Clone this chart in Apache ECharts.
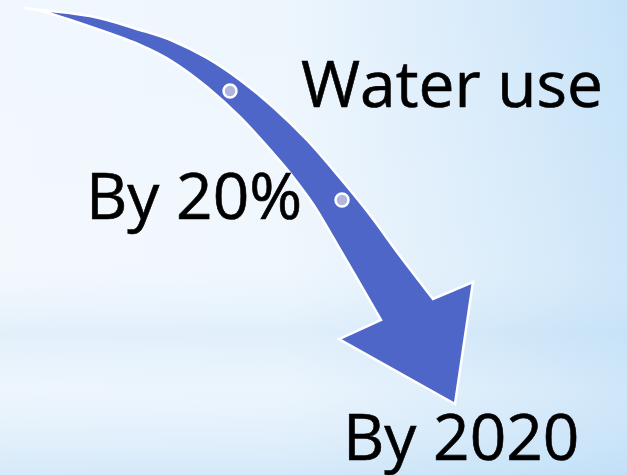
<!DOCTYPE html>
<html>
<head>
<meta charset="utf-8">
<script src="https://cdn.jsdelivr.net/npm/echarts@6/dist/echarts.min.js"></script>
<style>
html,body{margin:0;padding:0;width:627px;height:475px;overflow:hidden;}
#chart{width:627px;height:475px;}
</style>
</head>
<body>
<div id="chart"></div>
<script>
// Diagram geometry (diagram value space: x 0..627, y 0..475 downward)
const outerEdge = [[24,8],[90,16],[140,30],[173,41],[207,58],[240,80],[273,107],[307,140],[340,178],[370,215],[400,256],[433,299]];
const arrowHead = [[473,282],[455,404],[339,339]];
const innerEdge = [[381,320],[355,275],[334,239],[313,204],[290,173],[273,153],[240,117],[207,87],[173,62],[140,45],[100,30],[45,12],[24,8]];
const dotPoints = [[230,91],[342,200]];
const labelTexts = ['Water use','By 20%','By 2020'];
const labelAnchors = [[301,89],[86,201],[343,442]];

function smoothSeg(pts){
  let d='';
  for(let i=0;i<pts.length-1;i++){
    const p0=pts[i-1]||pts[i], p1=pts[i], p2=pts[i+1], p3=pts[i+2]||pts[i+1];
    const c1=[p1[0]+(p2[0]-p0[0])/6, p1[1]+(p2[1]-p0[1])/6];
    const c2=[p2[0]-(p3[0]-p1[0])/6, p2[1]-(p3[1]-p1[1])/6];
    d+=' C'+c1[0]+' '+c1[1]+' '+c2[0]+' '+c2[1]+' '+p2[0]+' '+p2[1];
  }
  return d;
}

const chart = echarts.init(document.getElementById('chart'), null, {renderer:'canvas'});
const option = {
  animation:false,
  backgroundColor:'#e4f0fb',
  graphic:[
    {type:'rect',z:-10,silent:true,shape:{x:0,y:0,width:627,height:475},
     style:{fill:new echarts.graphic.LinearGradient(0,0,1,0,[
       {offset:0,color:'#f1f7fd'},{offset:0.45,color:'#eef6fd'},{offset:0.8,color:'#d6eafa'},{offset:1,color:'#c6e2f8'}])}},
    {type:'rect',z:-9,silent:true,shape:{x:0,y:0,width:627,height:475},
     style:{fill:new echarts.graphic.LinearGradient(0,0,0,1,[
       {offset:0,color:'rgba(255,255,255,0)'},{offset:0.55,color:'rgba(255,255,255,0.15)'},{offset:0.7,color:'rgba(200,226,246,0.35)'},{offset:0.82,color:'rgba(230,242,252,0.3)'},{offset:1,color:'rgba(190,222,246,0.55)'}])}}
  ],
  grid:{left:0,right:0,top:0,bottom:0},
  xAxis:{type:'value',min:0,max:627,show:false},
  yAxis:{type:'value',min:0,max:475,inverse:true,show:false},
  series:[
    {
      type:'custom',
      data:[0],
      renderItem:function(params,api){
        const o=outerEdge.map(p=>api.coord(p));
        const h=arrowHead.map(p=>api.coord(p));
        const n=innerEdge.map(p=>api.coord(p));
        let d='M'+o[0][0]+' '+o[0][1]+smoothSeg(o);
        h.forEach(p=>{d+=' L'+p[0]+' '+p[1];});
        d+=' L'+n[0][0]+' '+n[0][1]+smoothSeg(n)+' Z';
        return {type:'path',shape:{pathData:d},
          style:{fill:'#4f66c9',stroke:'#ffffff',lineWidth:2.5,lineJoin:'miter'}};
      },
      z:2
    },
    {
      type:'scatter',
      data:dotPoints,
      symbol:'circle',
      symbolSize:13,
      itemStyle:{color:'#b2b6df',borderColor:'#ffffff',borderWidth:2.5,opacity:1},
      z:3
    },
    {
      type:'scatter',
      data:labelAnchors.map((p,i)=>({value:p,name:labelTexts[i]})),
      symbolSize:0,
      itemStyle:{opacity:1},
      label:{show:true,position:'inside',align:'left',verticalAlign:'middle',opacity:1,
        formatter:p=>p.name,color:'#000000',fontSize:64,fontFamily:'Open Sans',
        textBorderColor:'#000000',textBorderWidth:0.6},
      z:4
    }
  ]
};
chart.setOption(option);
</script>
</body>
</html>
